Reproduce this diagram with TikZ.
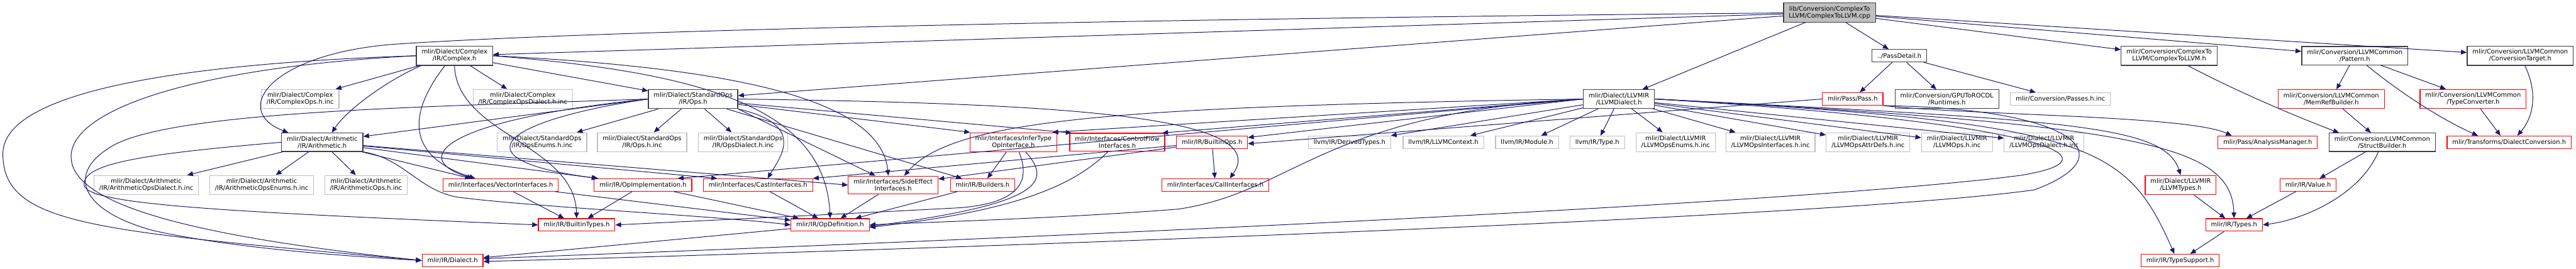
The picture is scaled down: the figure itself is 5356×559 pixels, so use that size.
\documentclass[tikz,border=0pt]{standalone}
\usepackage{fontspec}
\setmainfont{DejaVu Sans}
\usepackage{tikz}
\usetikzlibrary{arrows.meta}
\definecolor{edgeblue}{RGB}{25,25,112}
\definecolor{truncred}{RGB}{255,0,0}
\definecolor{incgray}{RGB}{191,191,191}
\definecolor{docgray}{RGB}{64,64,64}
\tikzset{
  filebox/.style={draw=docgray, line width=1.6pt, inner xsep=11pt, inner ysep=6.5pt,
    minimum height=26pt, align=center, font=\fontsize{13}{14.3}\selectfont},
  rootbox/.style={filebox, fill=incgray},
  incbox/.style={filebox, draw=incgray},
  truncbox/.style={filebox, draw=truncred},
  dep/.style={edgeblue, line width=1.3pt, -{Triangle[length=12pt,width=10pt]}},
}

\begin{document}
\begin{tikzpicture}[x=1pt, y=-1pt]
  \useasboundingbox (0,0) rectangle (5356,559);
  % Source file at top
  \node[rootbox] (root) at (3804,26) {lib/Conversion/ComplexTo\\LLVM/ComplexToLLVM.cpp};
  % Second row
  \node[filebox] (cpx) at (945,116) {mlir/Dialect/Complex\\/IR/Complex.h};
  \node[filebox] (pdet) at (3949,116) {../PassDetail.h};
  \node[filebox] (c2l) at (4510,116) {mlir/Conversion/ComplexTo\\LLVM/ComplexToLLVM.h};
  \node[filebox] (pat) at (4896,116) {mlir/Conversion/LLVMCommon\\/Pattern.h};
  \node[filebox] (ctgt) at (5240,116) {mlir/Conversion/LLVMCommon\\/ConversionTarget.h};
  % Third row
  \node[incbox] (cpxops) at (624,206) {mlir/Dialect/Complex\\/IR/ComplexOps.h.inc};
  \node[incbox] (cpxdia) at (1087,206) {mlir/Dialect/Complex\\/IR/ComplexOpsDialect.h.inc};
  \node[filebox] (stdops) at (1441,206) {mlir/Dialect/StandardOps\\/IR/Ops.h};
  \node[filebox] (llvmd) at (3366,206) {mlir/Dialect/LLVMIR\\/LLVMDialect.h};
  \node[truncbox] (pass) at (3852,206) {mlir/Pass/Pass.h};
  \node[filebox] (rocdl) at (4048,206) {mlir/Conversion/GPUToROCDL\\/Runtimes.h};
  \node[incbox] (passinc) at (4284,206) {mlir/Conversion/Passes.h.inc};
  \node[truncbox] (memref) at (4847,206) {mlir/Conversion/LLVMCommon\\/MemRefBuilder.h};
  \node[truncbox] (tconv) at (5142,206) {mlir/Conversion/LLVMCommon\\/TypeConverter.h};
  % Fourth row
  \node[filebox] (arith) at (670,296) {mlir/Dialect/Arithmetic\\/IR/Arithmetic.h};
  \node[incbox] (opsenum) at (1127,296) {mlir/Dialect/StandardOps\\/IR/OpsEnums.h.inc};
  \node[incbox] (opsinc) at (1335,296) {mlir/Dialect/StandardOps\\/IR/Ops.h.inc};
  \node[incbox] (opsdia) at (1545,296) {mlir/Dialect/StandardOps\\/IR/OpsDialect.h.inc};
  \node[truncbox] (infer) at (2107,296) {mlir/Interfaces/InferType\\OpInterface.h};
  \node[truncbox] (cflow) at (2323,296) {mlir/Interfaces/ControlFlow\\Interfaces.h};
  \node[truncbox] (bops) at (2520,296) {mlir/IR/BuiltinOps.h};
  \node[incbox] (dtypes) at (2806,296) {llvm/IR/DerivedTypes.h};
  \node[incbox] (lctx) at (3001,296) {llvm/IR/LLVMContext.h};
  \node[incbox] (module) at (3175,296) {llvm/IR/Module.h};
  \node[incbox] (type) at (3321,296) {llvm/IR/Type.h};
  \node[incbox] (lenums) at (3484,296) {mlir/Dialect/LLVMIR\\/LLVMOpsEnums.h.inc};
  \node[incbox] (linterf) at (3681,296) {mlir/Dialect/LLVMIR\\/LLVMOpsInterfaces.h.inc};
  \node[incbox] (lattr) at (3884,296) {mlir/Dialect/LLVMIR\\/LLVMOpsAttrDefs.h.inc};
  \node[incbox] (lops) at (4069,296) {mlir/Dialect/LLVMIR\\/LLVMOps.h.inc};
  \node[incbox] (ldia) at (4250,296) {mlir/Dialect/LLVMIR\\/LLVMOpsDialect.h.inc};
  \node[truncbox] (anal) at (4715,296) {mlir/Pass/AnalysisManager.h};
  \node[filebox] (struct) at (4953,296) {mlir/Conversion/LLVMCommon\\/StructBuilder.h};
  \node[truncbox] (dconv) at (5217,296) {mlir/Transforms/DialectConversion.h};
  % Fifth row
  \node[incbox] (ardia) at (304,385) {mlir/Dialect/Arithmetic\\/IR/ArithmeticOpsDialect.h.inc};
  \node[incbox] (arenum) at (544,385) {mlir/Dialect/Arithmetic\\/IR/ArithmeticOpsEnums.h.inc};
  \node[incbox] (arops) at (761,385) {mlir/Dialect/Arithmetic\\/IR/ArithmeticOps.h.inc};
  \node[truncbox] (vec) at (1041,385) {mlir/Interfaces/VectorInterfaces.h};
  \node[truncbox] (opimpl) at (1337,385) {mlir/IR/OpImplementation.h};
  \node[truncbox] (cast) at (1576,385) {mlir/Interfaces/CastInterfaces.h};
  \node[truncbox] (side) at (1857,385) {mlir/Interfaces/SideEffect\\Interfaces.h};
  \node[truncbox] (build) at (2043,385) {mlir/IR/Builders.h};
  \node[truncbox] (call) at (2527,385) {mlir/Interfaces/CallInterfaces.h};
  \node[truncbox] (ltypes) at (4534,385) {mlir/Dialect/LLVMIR\\/LLVMTypes.h};
  \node[truncbox] (value) at (4799,385) {mlir/IR/Value.h};
  % Bottom rows
  \node[truncbox] (btypes) at (1199,468) {mlir/IR/BuiltinTypes.h};
  \node[truncbox] (opdef) at (1726,468) {mlir/IR/OpDefinition.h};
  \node[truncbox] (types) at (4645,468) {mlir/IR/Types.h};
  \node[truncbox] (dialect) at (941,542) {mlir/IR/Dialect.h};
  \node[truncbox] (tsup) at (4533,542) {mlir/IR/TypeSupport.h};

  % Includes of the source file
  \draw[dep] (root) -- (cpx);
  \draw[dep] (root) .. controls (2500,38) and (1300,60) .. (820,92) .. controls (560,112) and (480,230) .. ([xshift=15pt]arith.north west);
  \draw[dep] (root) -- (stdops);
  \draw[dep] (root) -- (llvmd);
  \draw[dep] (root) -- (pdet);
  \draw[dep] (root) -- (c2l);
  \draw[dep] (root) -- (pat);
  \draw[dep] (root) -- (ctgt);
  % Complex.h
  \draw[dep] (cpx) -- (cpxops);
  \draw[dep] (cpx) -- (cpxdia);
  \draw[dep] ([xshift=10pt]cpx.south west) .. controls (800,170) and (720,230) .. ([xshift=20pt]arith.north);
  \draw[dep] (cpx) -- (stdops);
  \draw[dep] (cpx.west) .. controls (500,128) and (6,170) .. (6,320) .. controls (6,470) and (200,480) .. (dialect.west);
  \draw[dep] (cpx.west) .. controls (400,140) and (140,230) .. (148,330) .. controls (155,440) and (480,500) .. (dialect.west);
  \draw[dep] ([xshift=-20pt]cpx.south) .. controls (860,220) and (830,320) .. ([xshift=-53pt]vec.north);
  \draw[dep] (cpx.south) .. controls (950,280) and (1195,300) .. (btypes.north);
  \draw[dep] (cpx.east) .. controls (1450,150) and (1715,220) .. (opdef.north);
  \draw[dep] (cpx.east) .. controls (1500,140) and (1830,200) .. ([xshift=-10pt]side.north);
  % Arithmetic.h
  \draw[dep] (arith) -- (ardia);
  \draw[dep] (arith) -- (arenum);
  \draw[dep] (arith) -- (arops);
  \draw[dep] (arith.west) .. controls (300,320) and (170,340) .. (175,385) .. controls (180,425) and (450,440) .. (btypes.west);
  \draw[dep] (arith) -- ([xshift=-62pt]vec.north);
  \draw[dep] (arith) -- ([xshift=-95pt]opimpl.north);
  \draw[dep] (arith) -- ([xshift=-85pt]cast.north);
  \draw[dep] (arith) -- (side.west);
  \draw[dep] (arith.south east) .. controls (840,330) and (870,395) .. (950,410) .. controls (1100,430) and (1500,450) .. (opdef.west);
  % StandardOps/IR/Ops.h
  \draw[dep] (stdops) -- (opsenum);
  \draw[dep] (stdops) -- (opsinc);
  \draw[dep] (stdops) -- (opsdia);
  \draw[dep] (stdops.west) -- ([yshift=12pt]arith.east);
  \draw[dep] (stdops.west) .. controls (900,222) and (380,230) .. (240,300) .. controls (130,360) and (170,440) .. (320,480) .. controls (500,520) and (760,535) .. (dialect.west);
  \draw[dep] (stdops.west) .. controls (920,250) and (850,330) .. ([xshift=-58pt]vec.north);
  \draw[dep] (stdops.west) .. controls (1020,255) and (960,335) .. ([xshift=-93pt]opimpl.north);
  \draw[dep] (stdops.south east) .. controls (1680,260) and (1620,330) .. ([xshift=20pt]cast.north);
  \draw[dep] (stdops.south east) -- ([xshift=-37pt]side.north);
  \draw[dep] (stdops) -- ([xshift=-43pt]build.north);
  \draw[dep] (stdops) -- ([xshift=-90pt]infer.north);
  \draw[dep] (stdops) -- ([xshift=-95pt]cflow.north);
  \draw[dep] (stdops.east) .. controls (2200,215) and (2650,240) .. ([xshift=30pt]call.north);
  % LLVMDialect.h
  \draw[dep] (llvmd) -- (dtypes);
  \draw[dep] (llvmd) -- (lctx);
  \draw[dep] (llvmd) -- (module);
  \draw[dep] (llvmd) -- (type);
  \draw[dep] (llvmd) -- (lenums);
  \draw[dep] (llvmd) -- (linterf);
  \draw[dep] (llvmd) -- (lattr);
  \draw[dep] (llvmd) -- (lops);
  \draw[dep] (llvmd) -- (ldia);
  \draw[dep] (llvmd.east) .. controls (4300,250) and (4500,260) .. (ltypes.north);
  \draw[dep] (llvmd.east) .. controls (4450,260) and (4640,300) .. (types.north);
  \draw[dep] (llvmd.east) .. controls (4350,255) and (4420,300) .. ([xshift=-12pt]tsup.north);
  \draw[dep] (llvmd.east) .. controls (4250,255) and (4420,330) .. (4200,365) .. controls (3700,430) and (1900,505) .. ([yshift=4pt]dialect.east);
  \draw[dep] (llvmd.west) -- ([yshift=10pt]bops.east);
  \draw[dep] (llvmd.west) -- ([xshift=-10pt]infer.north east);
  \draw[dep] (llvmd.west) -- ([xshift=-6pt]cflow.north east);
  \draw[dep] (llvmd.west) -- ([xshift=-30pt]opimpl.north east);
  \draw[dep] (llvmd.west) .. controls (2300,222) and (1980,250) .. ([xshift=23pt]side.north);
  \draw[dep] (llvmd.west) .. controls (2750,235) and (2690,400) .. (2450,435) .. controls (2200,455) and (1900,463) .. (opdef.east);
  % PassDetail.h and Pass.h
  \draw[dep] (pdet) -- (pass);
  \draw[dep] (pdet) -- (rocdl);
  \draw[dep] (pdet) -- (passinc);
  \draw[dep] (pass.west) -- ([yshift=-3pt]bops.east);
  \draw[dep] (pass.south east) .. controls (4100,240) and (4550,240) .. ([xshift=-75pt]anal.north);
  \draw[dep] (pass.south east) .. controls (4300,225) and (4430,320) .. (4230,395) .. controls (3800,455) and (1900,520) .. ([yshift=-2pt]dialect.east);
  % LLVMCommon headers
  \draw[dep] (c2l) .. controls (4650,190) and (4780,245) .. ([xshift=-90pt]struct.north);
  \draw[dep] (pat) -- (memref);
  \draw[dep] (pat) -- (tconv);
  \draw[dep] (pat) .. controls (5000,200) and (5080,250) .. ([xshift=-65pt]dconv.north);
  \draw[dep] (ctgt) .. controls (5275,190) and (5270,240) .. ([xshift=17pt]dconv.north);
  \draw[dep] (tconv) -- ([xshift=-18pt]dconv.north);
  \draw[dep] (memref) -- (struct);
  \draw[dep] (struct) -- (value);
  \draw[dep] (struct) .. controls (4910,400) and (4800,455) .. (types.east);
  \draw[dep] (ltypes) -- (types);
  \draw[dep] (value) -- (types);
  \draw[dep] (types) -- (tsup);
  % Interfaces and IR headers
  \draw[dep] (vec) -- (btypes);
  \draw[dep] (vec) -- (opdef);
  \draw[dep] (opimpl) -- (btypes);
  \draw[dep] (opimpl) -- (opdef);
  \draw[dep] (cast) -- (opdef);
  \draw[dep] (side) -- (opdef);
  \draw[dep] (build) -- (opdef);
  \draw[dep] (infer) -- (build);
  \draw[dep] ([xshift=12pt]infer.south) .. controls (2140,370) and (2130,420) .. (2000,432) .. controls (1700,448) and (1400,462) .. (btypes.east);
  \draw[dep] ([xshift=26pt]infer.south) .. controls (2190,380) and (2160,425) .. ([yshift=-3pt]opdef.east);
  \draw[dep] (cflow) .. controls (2230,390) and (2100,440) .. ([yshift=-5pt]opdef.east);
  \draw[dep] (bops) -- (call);
  \draw[dep] (bops) -- (side);
  \draw[dep] (bops) -- (cast.north east);
  \draw[dep] (opdef) -- (dialect);
\end{tikzpicture}
\end{document}
